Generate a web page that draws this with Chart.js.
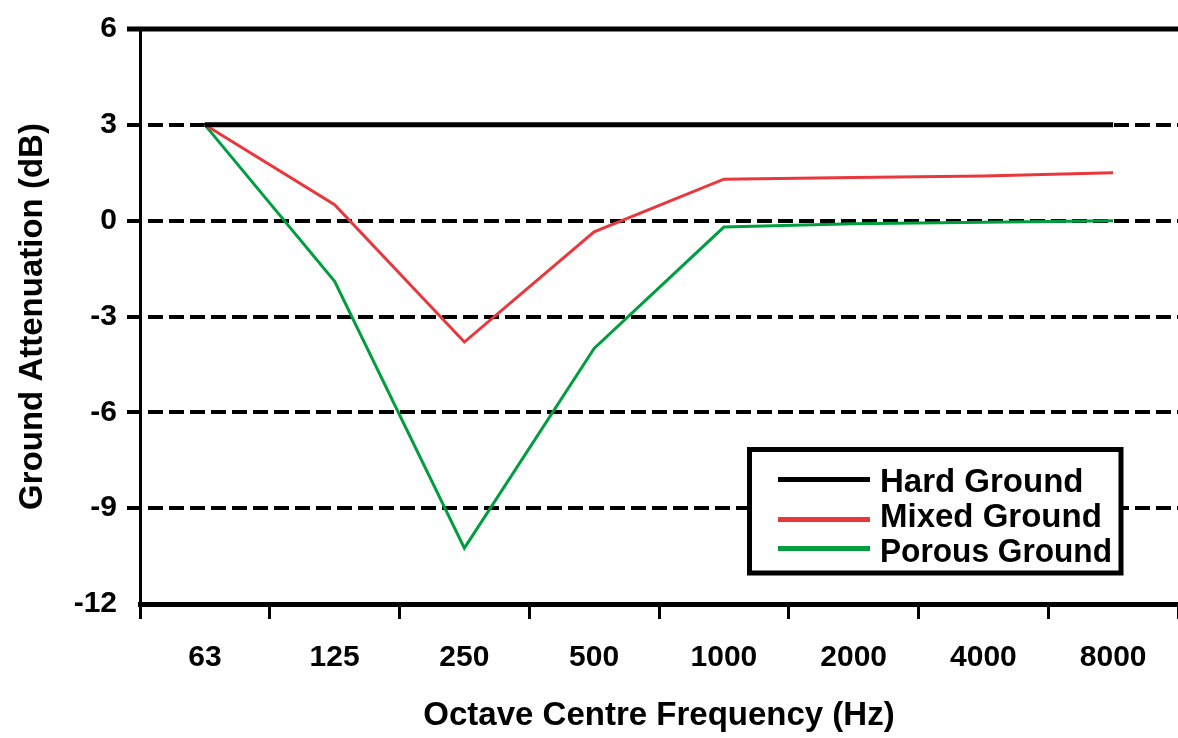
<!DOCTYPE html>
<html>
<head>
<meta charset="utf-8">
<title>Ground Attenuation</title>
<script src="https://cdn.jsdelivr.net/npm/chart.js"></script>
<style>
  html, body { margin: 0; padding: 0; background: #fff; }
</style>
</head>
<body>
<canvas id="chart" width="1178" height="738"></canvas>
<script>
// octave bands and readings (dB)
const bands = ["63", "125", "250", "500", "1000", "2000", "4000", "8000"];
const hardGround = [3, 3, 3, 3, 3, 3, 3, 3];
const mixedGround = [3, 0.5, -3.8, -0.35, 1.3, 1.35, 1.4, 1.5];
const porousGround = [3, -1.9, -10.25, -4.0, -0.2, -0.1, -0.05, 0];
const yTicks = [6, 3, 0, -3, -6, -9, -12];

const TEXT_FONT = "'Liberation Sans', Arial, sans-serif";

// top frame line + dashed grid lines, drawn under the series
const framePlugin = {
  id: "frame",
  beforeDatasetsDraw(chart) {
    const { ctx, chartArea, scales: { y } } = chart;
    ctx.save();
    ctx.strokeStyle = "#000";
    for (const v of yTicks) {
      if (v === -12) continue; // x axis border takes care of it
      const py = Math.round(y.getPixelForValue(v));
      const top = v === yTicks[0];
      ctx.lineWidth = top ? 5 : 4;
      ctx.setLineDash(top ? [] : [15, 6]);
      ctx.beginPath();
      ctx.moveTo(chartArea.left - 13, py);
      ctx.lineTo(chartArea.right, py);
      ctx.stroke();
    }
    ctx.restore();
  }
};

// boxed legend sitting inside the plot
const legendPlugin = {
  id: "boxLegend",
  afterDatasetsDraw(chart) {
    const { ctx } = chart;
    ctx.save();
    ctx.fillStyle = "#fff";
    ctx.fillRect(749, 449, 372, 124);
    ctx.lineWidth = 5;
    ctx.strokeStyle = "#000";
    ctx.strokeRect(749.5, 449.5, 371.5, 123.5);
    const lineY = [479.5, 519.5, 548.5];
    const textY = [492, 527, 562];
    ctx.font = `bold 33px ${TEXT_FONT}`;
    ctx.textBaseline = "alphabetic";
    chart.data.datasets.forEach((ds, i) => {
      ctx.strokeStyle = ds.borderColor;
      ctx.lineWidth = 5;
      ctx.beginPath();
      ctx.moveTo(778, lineY[i]);
      ctx.lineTo(870, lineY[i]);
      ctx.stroke();
      ctx.fillStyle = "#000";
      ctx.fillText(ds.label, 880, textY[i], 232);
    });
    ctx.restore();
  }
};

new Chart(document.getElementById("chart"), {
  type: "line",
  data: {
    labels: bands,
    datasets: [
      { label: "Hard Ground", data: hardGround, borderColor: "#000000", borderWidth: 5 },
      { label: "Mixed Ground", data: mixedGround, borderColor: "#e8383d", borderWidth: 3 },
      { label: "Porous Ground", data: porousGround, borderColor: "#009e40", borderWidth: 3 }
    ]
  },
  options: {
    responsive: false,
    animation: false,
    devicePixelRatio: 1,
    layout: { padding: { top: 29, right: 0, left: 0, bottom: 0 } },
    elements: {
      point: { radius: 0 },
      line: { tension: 0, borderCapStyle: "butt" }
    },
    plugins: {
      legend: { display: false },
      tooltip: { enabled: false }
    },
    scales: {
      x: {
        offset: true,
        grid: {
          offset: true,
          drawOnChartArea: false,
          drawTicks: true,
          tickLength: 15,
          tickWidth: 3,
          tickColor: "#000"
        },
        border: { display: true, color: "#000", width: 5 },
        ticks: {
          color: "#000",
          font: { family: TEXT_FONT, size: 30, weight: "bold" },
          padding: 21,
          maxRotation: 0,
          autoSkip: false
        },
        title: {
          display: true,
          text: "Octave Centre Frequency (Hz)",
          color: "#000",
          font: { family: TEXT_FONT, size: 33, weight: "bold" },
          padding: { top: 0, bottom: 2 }
        },
        afterFit(scale) {
          scale.height = 134;
          scale.paddingLeft = 0;
          scale.paddingRight = 0;
        }
      },
      y: {
        min: -12,
        max: 6,
        ticks: {
          stepSize: 3,
          color: "#000",
          font: { family: TEXT_FONT, size: 30, weight: "bold" },
          padding: 23
        },
        grid: { drawOnChartArea: false, drawTicks: false },
        border: { display: true, color: "#000", width: 3 },
        title: {
          display: true,
          text: "Ground Attenuation (dB)",
          color: "#000",
          font: { family: TEXT_FONT, size: 33, weight: "bold" },
          padding: { top: 13, bottom: 0 }
        },
        afterFit(scale) {
          scale.width = 140;
          scale.paddingTop = 0;
          scale.paddingBottom = 0;
        }
      }
    }
  },
  plugins: [framePlugin, legendPlugin]
});
</script>
</body>
</html>
